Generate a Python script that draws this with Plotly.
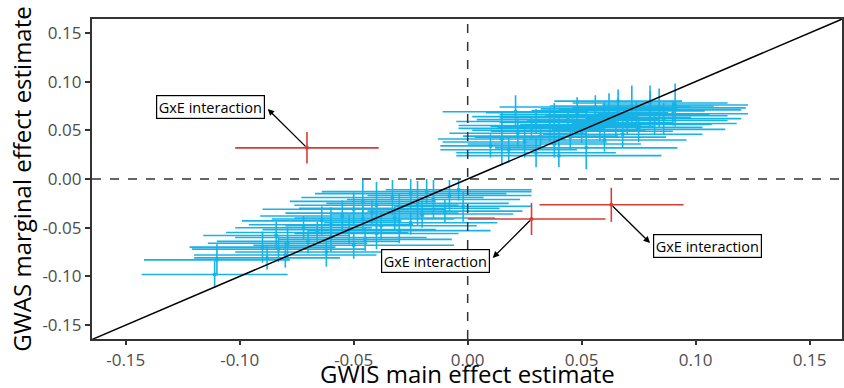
import plotly.graph_objects as go

# ---- data ----
# positive cluster: x, y, x half-width, y half-width
pos_x = [0.040, 0.030, 0.018, 0.052, 0.010, 0.038, 0.025, 0.060, 0.015, 0.045,
         0.032, 0.068, 0.022, 0.050, 0.040, 0.075, 0.028, 0.058, 0.046, 0.036,
         0.065, 0.082, 0.052, 0.030, 0.070, 0.044, 0.086, 0.056, 0.038, 0.074,
         0.060, 0.090, 0.048, 0.021, 0.066, 0.080, 0.062, 0.084, 0.056, 0.072,
         0.091, 0.080, 0.066]
pos_y = [0.024, 0.027, 0.030, 0.032, 0.034, 0.036, 0.038, 0.040, 0.041, 0.043,
         0.044, 0.046, 0.047, 0.049, 0.050, 0.051, 0.052, 0.053, 0.054, 0.055,
         0.056, 0.057, 0.058, 0.059, 0.060, 0.061, 0.062, 0.063, 0.064, 0.065,
         0.066, 0.067, 0.068, 0.069, 0.070, 0.071, 0.072, 0.073, 0.074, 0.075,
         0.076, 0.078, 0.080]
pos_xe = [0.045, 0.035, 0.030, 0.040, 0.022, 0.038, 0.036, 0.036, 0.028, 0.042,
          0.034, 0.035, 0.030, 0.040, 0.038, 0.038, 0.032, 0.045, 0.036, 0.040,
          0.042, 0.036, 0.038, 0.035, 0.044, 0.040, 0.034, 0.042, 0.036, 0.040,
          0.046, 0.033, 0.040, 0.032, 0.038, 0.040, 0.030, 0.038, 0.042, 0.036,
          0.032, 0.034, 0.028]
pos_ye = [0.012, 0.015, 0.013, 0.022, 0.012, 0.014, 0.016, 0.012, 0.027, 0.013,
          0.011, 0.014, 0.015, 0.012, 0.016, 0.013, 0.011, 0.014, 0.012, 0.017,
          0.013, 0.012, 0.015, 0.013, 0.014, 0.012, 0.016, 0.011, 0.014, 0.015,
          0.013, 0.012, 0.016, 0.017, 0.014, 0.019, 0.016, 0.020, 0.012, 0.021,
          0.022, 0.018, 0.012]

neg_x = [-0.111, -0.110, -0.088, -0.080, -0.062, -0.083, -0.090, -0.050, -0.079, -0.070,
         -0.045, -0.060, -0.084, -0.040, -0.066, -0.030, -0.052, -0.072, -0.038, -0.060,
         -0.025, -0.064, -0.046, -0.032, -0.055, -0.020, -0.042, -0.010, -0.050, -0.030,
         -0.002, -0.040, -0.022, -0.046, -0.015, -0.033, -0.008, -0.025, -0.018, -0.004]
neg_y = [-0.098, -0.083, -0.081, -0.078, -0.075, -0.072, -0.070, -0.068, -0.066, -0.064,
         -0.062, -0.060, -0.058, -0.056, -0.055, -0.053, -0.052, -0.050, -0.048, -0.047,
         -0.045, -0.043, -0.041, -0.040, -0.038, -0.036, -0.035, -0.033, -0.031, -0.030,
         -0.028, -0.027, -0.025, -0.023, -0.021, -0.019, -0.017, -0.015, -0.013, -0.011]
neg_xe = [0.032, 0.032, 0.032, 0.040, 0.040, 0.038, 0.032, 0.044, 0.035, 0.040,
          0.038, 0.042, 0.032, 0.036, 0.040, 0.040, 0.038, 0.030, 0.042, 0.036,
          0.038, 0.035, 0.040, 0.044, 0.036, 0.040, 0.038, 0.034, 0.040, 0.044,
          0.030, 0.036, 0.040, 0.032, 0.038, 0.040, 0.036, 0.042, 0.046, 0.032]
neg_ye = [0.014, 0.016, 0.012, 0.013, 0.015, 0.013, 0.016, 0.014, 0.017, 0.012,
          0.012, 0.015, 0.014, 0.016, 0.011, 0.013, 0.015, 0.012, 0.014, 0.018,
          0.012, 0.015, 0.013, 0.012, 0.016, 0.014, 0.013, 0.012, 0.017, 0.015,
          0.016, 0.024, 0.023, 0.022, 0.020, 0.018, 0.016, 0.015, 0.013, 0.011]

# GxE interaction SNPs: x, y, x error minus/plus, y error
gxe_x = [-0.0705, 0.0280, 0.0630]
gxe_y = [0.0320, -0.0410, -0.0265]
gxe_xe_minus = [0.0315, 0.0280, 0.0315]
gxe_xe_plus = [0.0315, 0.0325, 0.0317]
gxe_ye = [0.0162, 0.0165, 0.0175]

label_text = "GxE interaction"
label_x = [-0.1127, -0.0140, 0.1050]
label_y = [0.0739, -0.0837, -0.0688]
arrow_tip_x = [-0.0877, 0.0110, 0.0800]
arrow_tip_y = [0.0719, -0.0810, -0.0657]

x_title = "GWIS main effect estimate"
y_title = "GWAS marginal effect estimate"

axis_range = [-0.1648, 0.1642]
yaxis_range = [-0.1643, 0.1643]
tick_vals = [-0.15, -0.10, -0.05, 0.00, 0.05, 0.10, 0.15]
tick_text = ["-0.15", "-0.10", "-0.05", "0.00", "0.05", "0.10", "0.15"]

BLUE = "#17B2E6"
RED = "#DA3B36"
FONT = "Open Sans"

fig = go.Figure()

# reference lines
fig.add_shape(type="line", x0=0, x1=0, y0=yaxis_range[0], y1=yaxis_range[1],
              line=dict(color="#333333", width=1.5, dash="dash"))
fig.add_shape(type="line", x0=axis_range[0], x1=axis_range[1], y0=0, y1=0,
              line=dict(color="#333333", width=1.5, dash="dash"))
fig.add_shape(type="line", x0=-0.17, x1=0.17, y0=-0.17, y1=0.17,
              line=dict(color="black", width=1.5))


def err_trace(xs, ys, xe, ye, color):
    return go.Scatter(
        x=xs, y=ys, mode="markers",
        marker=dict(color=color, size=4),
        error_x=dict(type="data", array=xe, visible=True, color=color, thickness=1.6, width=0),
        error_y=dict(type="data", array=ye, visible=True, color=color, thickness=1.6, width=0),
        showlegend=False, hoverinfo="skip",
    )


fig.add_trace(err_trace(pos_x, pos_y, pos_xe, pos_ye, BLUE))
fig.add_trace(err_trace(neg_x, neg_y, neg_xe, neg_ye, BLUE))
fig.add_trace(go.Scatter(
    x=gxe_x, y=gxe_y, mode="markers",
    marker=dict(color=RED, size=4),
    error_x=dict(type="data", symmetric=False, array=gxe_xe_plus, arrayminus=gxe_xe_minus,
                 visible=True, color=RED, thickness=1.6, width=0),
    error_y=dict(type="data", array=gxe_ye, visible=True, color=RED, thickness=1.6, width=0),
    showlegend=False, hoverinfo="skip",
))

# arrows (from point toward label) and labels
for i in range(3):
    fig.add_annotation(x=arrow_tip_x[i], y=arrow_tip_y[i], ax=gxe_x[i], ay=gxe_y[i],
                       xref="x", yref="y", axref="x", ayref="y", text="",
                       showarrow=True, arrowhead=2, arrowsize=1, arrowwidth=1.3,
                       arrowcolor="black")
    fig.add_annotation(x=label_x[i], y=label_y[i], xref="x", yref="y", text=label_text,
                       showarrow=False, bgcolor="white", bordercolor="black",
                       borderwidth=1.2, borderpad=1.5,
                       font=dict(family=FONT, size=14.5, color="black"))

# x-axis title as a paper annotation for exact placement
fig.add_annotation(x=0.5, y=-0.107, xref="paper", yref="paper", text=x_title,
                   showarrow=False, xanchor="center", yanchor="middle", height=26,
                   font=dict(family=FONT, size=24, color="black"))

axis_common = dict(
    showgrid=False, zeroline=False, showline=True, mirror=True,
    linecolor="#333333", linewidth=2.2, ticks="outside", ticklen=5,
    tickcolor="#333333", tickwidth=1.5,
    tickvals=tick_vals, ticktext=tick_text,
    tickfont=dict(family=FONT, size=17, color="#4d4d4d"),
)

fig.update_layout(
    width=844, height=388,
    margin=dict(l=92, r=2, t=19, b=49),
    paper_bgcolor="white", plot_bgcolor="white",
    font=dict(family=FONT),
    xaxis=dict(range=axis_range, automargin=False, **axis_common),
    yaxis=dict(range=yaxis_range, automargin=False,
               title=dict(text=y_title, standoff=4,
                          font=dict(family=FONT, size=24, color="black")),
               **axis_common),
)
fig.update_xaxes(ticklen=4)

fig.write_html("out.html", config={"displayModeBar": False},
               post_script="document.body.style.margin='0px';")
